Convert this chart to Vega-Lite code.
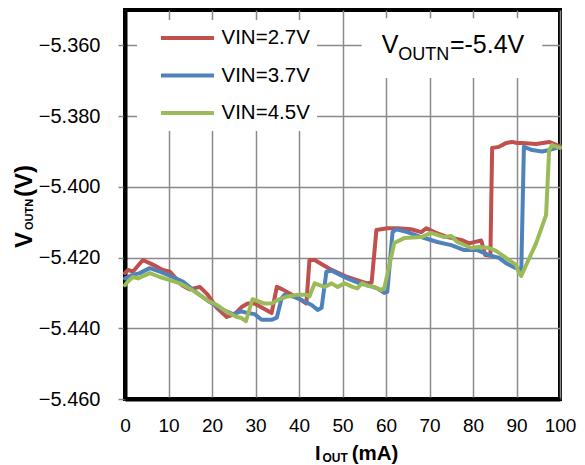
{
  "$schema": "https://vega.github.io/schema/vega-lite/v6.json",
  "width": 435,
  "height": 389,
  "autosize": {"type": "none"},
  "padding": {"left": 125, "top": 10, "right": 25, "bottom": 66},
  "background": "white",
  "config": {
    "font": "Liberation Sans",
    "view": {"stroke": "black", "strokeWidth": 4}
  },
  "datasets": {
    "one": [{"k": 1}],
    "curves": [
      {"s": "VIN=2.7V", "i": 0, "v": -5.4244},
      {"s": "VIN=2.7V", "i": 0.7, "v": -5.4235},
      {"s": "VIN=2.7V", "i": 1.8, "v": -5.424},
      {"s": "VIN=2.7V", "i": 4.1, "v": -5.4207},
      {"s": "VIN=2.7V", "i": 6.4, "v": -5.422},
      {"s": "VIN=2.7V", "i": 8.7, "v": -5.4235},
      {"s": "VIN=2.7V", "i": 10.3, "v": -5.424},
      {"s": "VIN=2.7V", "i": 13.1, "v": -5.4278},
      {"s": "VIN=2.7V", "i": 14.9, "v": -5.429},
      {"s": "VIN=2.7V", "i": 17.2, "v": -5.4283},
      {"s": "VIN=2.7V", "i": 19.0, "v": -5.4305},
      {"s": "VIN=2.7V", "i": 21.1, "v": -5.4342},
      {"s": "VIN=2.7V", "i": 23.4, "v": -5.4368},
      {"s": "VIN=2.7V", "i": 25.2, "v": -5.436},
      {"s": "VIN=2.7V", "i": 26.8, "v": -5.434},
      {"s": "VIN=2.7V", "i": 28.2, "v": -5.433},
      {"s": "VIN=2.7V", "i": 29.8, "v": -5.433},
      {"s": "VIN=2.7V", "i": 33.7, "v": -5.4357},
      {"s": "VIN=2.7V", "i": 34.9, "v": -5.4283},
      {"s": "VIN=2.7V", "i": 36.2, "v": -5.429},
      {"s": "VIN=2.7V", "i": 39.4, "v": -5.4312},
      {"s": "VIN=2.7V", "i": 41.7, "v": -5.433},
      {"s": "VIN=2.7V", "i": 42.4, "v": -5.4207},
      {"s": "VIN=2.7V", "i": 43.6, "v": -5.4207},
      {"s": "VIN=2.7V", "i": 47.5, "v": -5.4235},
      {"s": "VIN=2.7V", "i": 51.1, "v": -5.4255},
      {"s": "VIN=2.7V", "i": 54.4, "v": -5.4268},
      {"s": "VIN=2.7V", "i": 55.7, "v": -5.4273},
      {"s": "VIN=2.7V", "i": 56.7, "v": -5.427},
      {"s": "VIN=2.7V", "i": 57.8, "v": -5.4122},
      {"s": "VIN=2.7V", "i": 60.3, "v": -5.4117},
      {"s": "VIN=2.7V", "i": 62.6, "v": -5.4117},
      {"s": "VIN=2.7V", "i": 65.8, "v": -5.412},
      {"s": "VIN=2.7V", "i": 68.1, "v": -5.4128},
      {"s": "VIN=2.7V", "i": 69.3, "v": -5.4117},
      {"s": "VIN=2.7V", "i": 71.1, "v": -5.4128},
      {"s": "VIN=2.7V", "i": 74.1, "v": -5.4142},
      {"s": "VIN=2.7V", "i": 77.3, "v": -5.415},
      {"s": "VIN=2.7V", "i": 79.1, "v": -5.416},
      {"s": "VIN=2.7V", "i": 80.7, "v": -5.4155},
      {"s": "VIN=2.7V", "i": 81.9, "v": -5.4152},
      {"s": "VIN=2.7V", "i": 82.8, "v": -5.4193},
      {"s": "VIN=2.7V", "i": 84.0, "v": -5.4195},
      {"s": "VIN=2.7V", "i": 84.4, "v": -5.389},
      {"s": "VIN=2.7V", "i": 86.0, "v": -5.3887},
      {"s": "VIN=2.7V", "i": 87.6, "v": -5.3876},
      {"s": "VIN=2.7V", "i": 89.0, "v": -5.3873},
      {"s": "VIN=2.7V", "i": 90.1, "v": -5.3876},
      {"s": "VIN=2.7V", "i": 91.3, "v": -5.3876},
      {"s": "VIN=2.7V", "i": 94.5, "v": -5.3879},
      {"s": "VIN=2.7V", "i": 97.5, "v": -5.3873},
      {"s": "VIN=2.7V", "i": 99.3, "v": -5.3882},
      {"s": "VIN=2.7V", "i": 100, "v": -5.3885},
      {"s": "VIN=3.7V", "i": 0, "v": -5.4259},
      {"s": "VIN=3.7V", "i": 1.8, "v": -5.4249},
      {"s": "VIN=3.7V", "i": 3.4, "v": -5.4244},
      {"s": "VIN=3.7V", "i": 5.7, "v": -5.423},
      {"s": "VIN=3.7V", "i": 8.0, "v": -5.424},
      {"s": "VIN=3.7V", "i": 11.0, "v": -5.4255},
      {"s": "VIN=3.7V", "i": 13.3, "v": -5.4268},
      {"s": "VIN=3.7V", "i": 16.5, "v": -5.43},
      {"s": "VIN=3.7V", "i": 19.5, "v": -5.4326},
      {"s": "VIN=3.7V", "i": 22.5, "v": -5.4348},
      {"s": "VIN=3.7V", "i": 24.8, "v": -5.436},
      {"s": "VIN=3.7V", "i": 26.8, "v": -5.4352},
      {"s": "VIN=3.7V", "i": 28.2, "v": -5.4357},
      {"s": "VIN=3.7V", "i": 29.8, "v": -5.436},
      {"s": "VIN=3.7V", "i": 31.4, "v": -5.4376},
      {"s": "VIN=3.7V", "i": 33.7, "v": -5.4376},
      {"s": "VIN=3.7V", "i": 34.9, "v": -5.437},
      {"s": "VIN=3.7V", "i": 36.0, "v": -5.4315},
      {"s": "VIN=3.7V", "i": 36.7, "v": -5.4305},
      {"s": "VIN=3.7V", "i": 38.5, "v": -5.431},
      {"s": "VIN=3.7V", "i": 40.6, "v": -5.432},
      {"s": "VIN=3.7V", "i": 42.9, "v": -5.4334},
      {"s": "VIN=3.7V", "i": 44.3, "v": -5.4348},
      {"s": "VIN=3.7V", "i": 45.2, "v": -5.4342},
      {"s": "VIN=3.7V", "i": 46.3, "v": -5.424},
      {"s": "VIN=3.7V", "i": 47.5, "v": -5.4237},
      {"s": "VIN=3.7V", "i": 51.1, "v": -5.4259},
      {"s": "VIN=3.7V", "i": 54.4, "v": -5.4275},
      {"s": "VIN=3.7V", "i": 55.7, "v": -5.4277},
      {"s": "VIN=3.7V", "i": 58.0, "v": -5.4287},
      {"s": "VIN=3.7V", "i": 59.6, "v": -5.43},
      {"s": "VIN=3.7V", "i": 60.3, "v": -5.4297},
      {"s": "VIN=3.7V", "i": 61.5, "v": -5.4128},
      {"s": "VIN=3.7V", "i": 62.4, "v": -5.412},
      {"s": "VIN=3.7V", "i": 64.9, "v": -5.4128},
      {"s": "VIN=3.7V", "i": 68.1, "v": -5.4142},
      {"s": "VIN=3.7V", "i": 71.8, "v": -5.4156},
      {"s": "VIN=3.7V", "i": 75.0, "v": -5.4165},
      {"s": "VIN=3.7V", "i": 78.0, "v": -5.4179},
      {"s": "VIN=3.7V", "i": 81.0, "v": -5.4179},
      {"s": "VIN=3.7V", "i": 83.7, "v": -5.4193},
      {"s": "VIN=3.7V", "i": 86.0, "v": -5.4201},
      {"s": "VIN=3.7V", "i": 87.6, "v": -5.4216},
      {"s": "VIN=3.7V", "i": 89.9, "v": -5.423},
      {"s": "VIN=3.7V", "i": 91.1, "v": -5.4235},
      {"s": "VIN=3.7V", "i": 91.7, "v": -5.3887},
      {"s": "VIN=3.7V", "i": 93.6, "v": -5.3896},
      {"s": "VIN=3.7V", "i": 95.9, "v": -5.39},
      {"s": "VIN=3.7V", "i": 97.5, "v": -5.3896},
      {"s": "VIN=3.7V", "i": 100, "v": -5.3887},
      {"s": "VIN=4.5V", "i": 0, "v": -5.4278},
      {"s": "VIN=4.5V", "i": 0.5, "v": -5.427},
      {"s": "VIN=4.5V", "i": 1.8, "v": -5.4255},
      {"s": "VIN=4.5V", "i": 3.0, "v": -5.4259},
      {"s": "VIN=4.5V", "i": 5.7, "v": -5.4244},
      {"s": "VIN=4.5V", "i": 8.0, "v": -5.4255},
      {"s": "VIN=4.5V", "i": 10.3, "v": -5.4264},
      {"s": "VIN=4.5V", "i": 12.6, "v": -5.4273},
      {"s": "VIN=4.5V", "i": 14.2, "v": -5.4283},
      {"s": "VIN=4.5V", "i": 16.5, "v": -5.43},
      {"s": "VIN=4.5V", "i": 18.8, "v": -5.432},
      {"s": "VIN=4.5V", "i": 21.1, "v": -5.4334},
      {"s": "VIN=4.5V", "i": 23.4, "v": -5.4354},
      {"s": "VIN=4.5V", "i": 25.7, "v": -5.4368},
      {"s": "VIN=4.5V", "i": 26.8, "v": -5.4371},
      {"s": "VIN=4.5V", "i": 27.8, "v": -5.438},
      {"s": "VIN=4.5V", "i": 29.3, "v": -5.4318},
      {"s": "VIN=4.5V", "i": 29.8, "v": -5.432},
      {"s": "VIN=4.5V", "i": 32.1, "v": -5.433},
      {"s": "VIN=4.5V", "i": 33.7, "v": -5.433},
      {"s": "VIN=4.5V", "i": 35.1, "v": -5.432},
      {"s": "VIN=4.5V", "i": 37.4, "v": -5.431},
      {"s": "VIN=4.5V", "i": 39.7, "v": -5.4305},
      {"s": "VIN=4.5V", "i": 41.7, "v": -5.4305},
      {"s": "VIN=4.5V", "i": 42.4, "v": -5.431},
      {"s": "VIN=4.5V", "i": 43.6, "v": -5.4273},
      {"s": "VIN=4.5V", "i": 44.7, "v": -5.4278},
      {"s": "VIN=4.5V", "i": 45.9, "v": -5.4283},
      {"s": "VIN=4.5V", "i": 47.5, "v": -5.4273},
      {"s": "VIN=4.5V", "i": 48.9, "v": -5.4283},
      {"s": "VIN=4.5V", "i": 50.5, "v": -5.4273},
      {"s": "VIN=4.5V", "i": 52.3, "v": -5.4283},
      {"s": "VIN=4.5V", "i": 53.4, "v": -5.4287},
      {"s": "VIN=4.5V", "i": 54.5, "v": -5.4272},
      {"s": "VIN=4.5V", "i": 55.7, "v": -5.428},
      {"s": "VIN=4.5V", "i": 57.3, "v": -5.4283},
      {"s": "VIN=4.5V", "i": 58.9, "v": -5.4292},
      {"s": "VIN=4.5V", "i": 59.6, "v": -5.4287},
      {"s": "VIN=4.5V", "i": 61.9, "v": -5.4159},
      {"s": "VIN=4.5V", "i": 64.2, "v": -5.4145},
      {"s": "VIN=4.5V", "i": 68.1, "v": -5.4142},
      {"s": "VIN=4.5V", "i": 70.4, "v": -5.413},
      {"s": "VIN=4.5V", "i": 73.4, "v": -5.4142},
      {"s": "VIN=4.5V", "i": 75.0, "v": -5.4139},
      {"s": "VIN=4.5V", "i": 76.4, "v": -5.4156},
      {"s": "VIN=4.5V", "i": 79.6, "v": -5.4173},
      {"s": "VIN=4.5V", "i": 81.4, "v": -5.417},
      {"s": "VIN=4.5V", "i": 83.7, "v": -5.4173},
      {"s": "VIN=4.5V", "i": 85.3, "v": -5.4181},
      {"s": "VIN=4.5V", "i": 86.7, "v": -5.4193},
      {"s": "VIN=4.5V", "i": 88.3, "v": -5.4207},
      {"s": "VIN=4.5V", "i": 89.9, "v": -5.4221},
      {"s": "VIN=4.5V", "i": 90.6, "v": -5.4244},
      {"s": "VIN=4.5V", "i": 91.1, "v": -5.4252},
      {"s": "VIN=4.5V", "i": 92.4, "v": -5.4216},
      {"s": "VIN=4.5V", "i": 94.5, "v": -5.416},
      {"s": "VIN=4.5V", "i": 96.8, "v": -5.408},
      {"s": "VIN=4.5V", "i": 97.5, "v": -5.3896},
      {"s": "VIN=4.5V", "i": 98.2, "v": -5.3882},
      {"s": "VIN=4.5V", "i": 100, "v": -5.389}
    ]
  },
  "layer": [
    {
      "data": {"name": "curves"},
      "mark": {"type": "line", "strokeWidth": 4, "strokeJoin": "round", "strokeCap": "round"},
      "encoding": {
        "x": {
          "field": "i", "type": "quantitative",
          "scale": {"domain": [0, 100], "nice": false, "zero": false},
          "axis": {
            "values": [0, 10, 20, 30, 40, 50, 60, 70, 80, 90, 100],
            "title": null,
            "grid": true, "gridColor": "#8a8a8a", "gridWidth": 1.5, "gridOpacity": 1,
            "ticks": false,
            "domainColor": "black", "domainWidth": 4,
            "labelFont": "Liberation Sans", "labelFontSize": 19, "labelColor": "black",
            "labelPadding": 17, "labelFlush": false, "labelOverlap": false
          }
        },
        "y": {
          "field": "v", "type": "quantitative",
          "scale": {"domain": [-5.46, -5.35], "nice": false, "zero": false},
          "axis": {
            "values": [-5.46, -5.45, -5.44, -5.43, -5.42, -5.41, -5.4, -5.39, -5.38, -5.37, -5.36, -5.35],
            "labelExpr": "abs(round(datum.value*1000)) % 20 == 0 ? format(datum.value, '.3f') : ''",
            "title": null,
            "grid": true,
            "gridColor": {"condition": {"test": "abs(round(datum.value*1000)) % 20 == 0", "value": "#8a8a8a"}, "value": "#c4c4c4"},
            "gridWidth": 1.5, "gridOpacity": 1,
            "tickColor": "#8a8a8a", "tickSize": 7, "tickWidth": 1.5,
            "domainColor": "black", "domainWidth": 4,
            "labelFont": "Liberation Sans", "labelFontSize": 20, "labelColor": "black",
            "labelPadding": 18, "labelFlush": false, "labelOverlap": false
          }
        },
        "color": {
          "field": "s", "type": "nominal",
          "scale": {"domain": ["VIN=2.7V", "VIN=3.7V", "VIN=4.5V"], "range": ["#C0504D", "#4F81BD", "#9BBB59"]},
          "legend": {
            "title": null,
            "orient": "none", "legendX": 12, "legendY": 10,
            "fillColor": "white", "padding": 7,
            "symbolType": "M-3,0H3", "symbolSize": 312, "symbolStrokeWidth": 4,
            "symbolOffset": 32.5, "labelOffset": 23, "rowPadding": 15.5,
            "labelFont": "Liberation Sans", "labelFontSize": 20.5, "labelColor": "black",
            "labelExpr": "datum.label + '     '", "labelLimit": 300
          }
        }
      }
    },
    {
      "data": {"name": "one"},
      "mark": {"type": "rect", "fill": "white"},
      "encoding": {
        "x": {"datum": 54.4}, "x2": {"datum": 95.9},
        "y": {"datum": -5.3523}, "y2": {"datum": -5.3692}
      }
    },
    {
      "data": {"name": "one"},
      "mark": {"type": "text", "text": "V", "fontSize": 25, "align": "left", "baseline": "alphabetic", "font": "Liberation Sans", "color": "black"},
      "encoding": {"x": {"datum": 59.0}, "y": {"datum": -5.3622}}
    },
    {
      "data": {"name": "one"},
      "mark": {"type": "text", "text": "OUTN", "fontSize": 18, "align": "left", "baseline": "alphabetic", "font": "Liberation Sans", "color": "black"},
      "encoding": {"x": {"datum": 62.8}, "y": {"datum": -5.36414}}
    },
    {
      "data": {"name": "one"},
      "mark": {"type": "text", "text": "=-5.4V", "fontSize": 25, "align": "left", "baseline": "alphabetic", "font": "Liberation Sans", "color": "black"},
      "encoding": {"x": {"datum": 74.7}, "y": {"datum": -5.3622}}
    },
    {
      "data": {"name": "one"},
      "mark": {"type": "text", "text": "I", "fontSize": 20, "fontWeight": "bold", "align": "left", "baseline": "alphabetic", "font": "Liberation Sans", "color": "black"},
      "encoding": {"x": {"datum": 43.68}, "y": {"datum": -5.47711}}
    },
    {
      "data": {"name": "one"},
      "mark": {"type": "text", "text": "OUT", "fontSize": 12, "fontWeight": "bold", "align": "left", "baseline": "alphabetic", "font": "Liberation Sans", "color": "black"},
      "encoding": {"x": {"datum": 45.4}, "y": {"datum": -5.47781}}
    },
    {
      "data": {"name": "one"},
      "mark": {"type": "text", "text": "(mA)", "fontSize": 20.5, "fontWeight": "bold", "align": "left", "baseline": "alphabetic", "font": "Liberation Sans", "color": "black"},
      "encoding": {"x": {"datum": 52.1}, "y": {"datum": -5.47711}}
    },
    {
      "data": {"name": "one"},
      "mark": {"type": "text", "text": "V", "fontSize": 24, "fontWeight": "bold", "angle": 270, "align": "left", "baseline": "alphabetic", "font": "Liberation Sans", "color": "black"},
      "encoding": {"x": {"datum": -21.38}, "y": {"datum": -5.4173}}
    },
    {
      "data": {"name": "one"},
      "mark": {"type": "text", "text": "OUTN", "fontSize": 11, "fontWeight": "bold", "angle": 270, "align": "left", "baseline": "alphabetic", "font": "Liberation Sans", "color": "black"},
      "encoding": {"x": {"datum": -21.26}, "y": {"datum": -5.41221}}
    },
    {
      "data": {"name": "one"},
      "mark": {"type": "text", "text": "(V)", "fontSize": 24, "fontWeight": "bold", "angle": 270, "align": "left", "baseline": "alphabetic", "font": "Liberation Sans", "color": "black"},
      "encoding": {"x": {"datum": -21.38}, "y": {"datum": -5.40288}}
    }
  ]
}
